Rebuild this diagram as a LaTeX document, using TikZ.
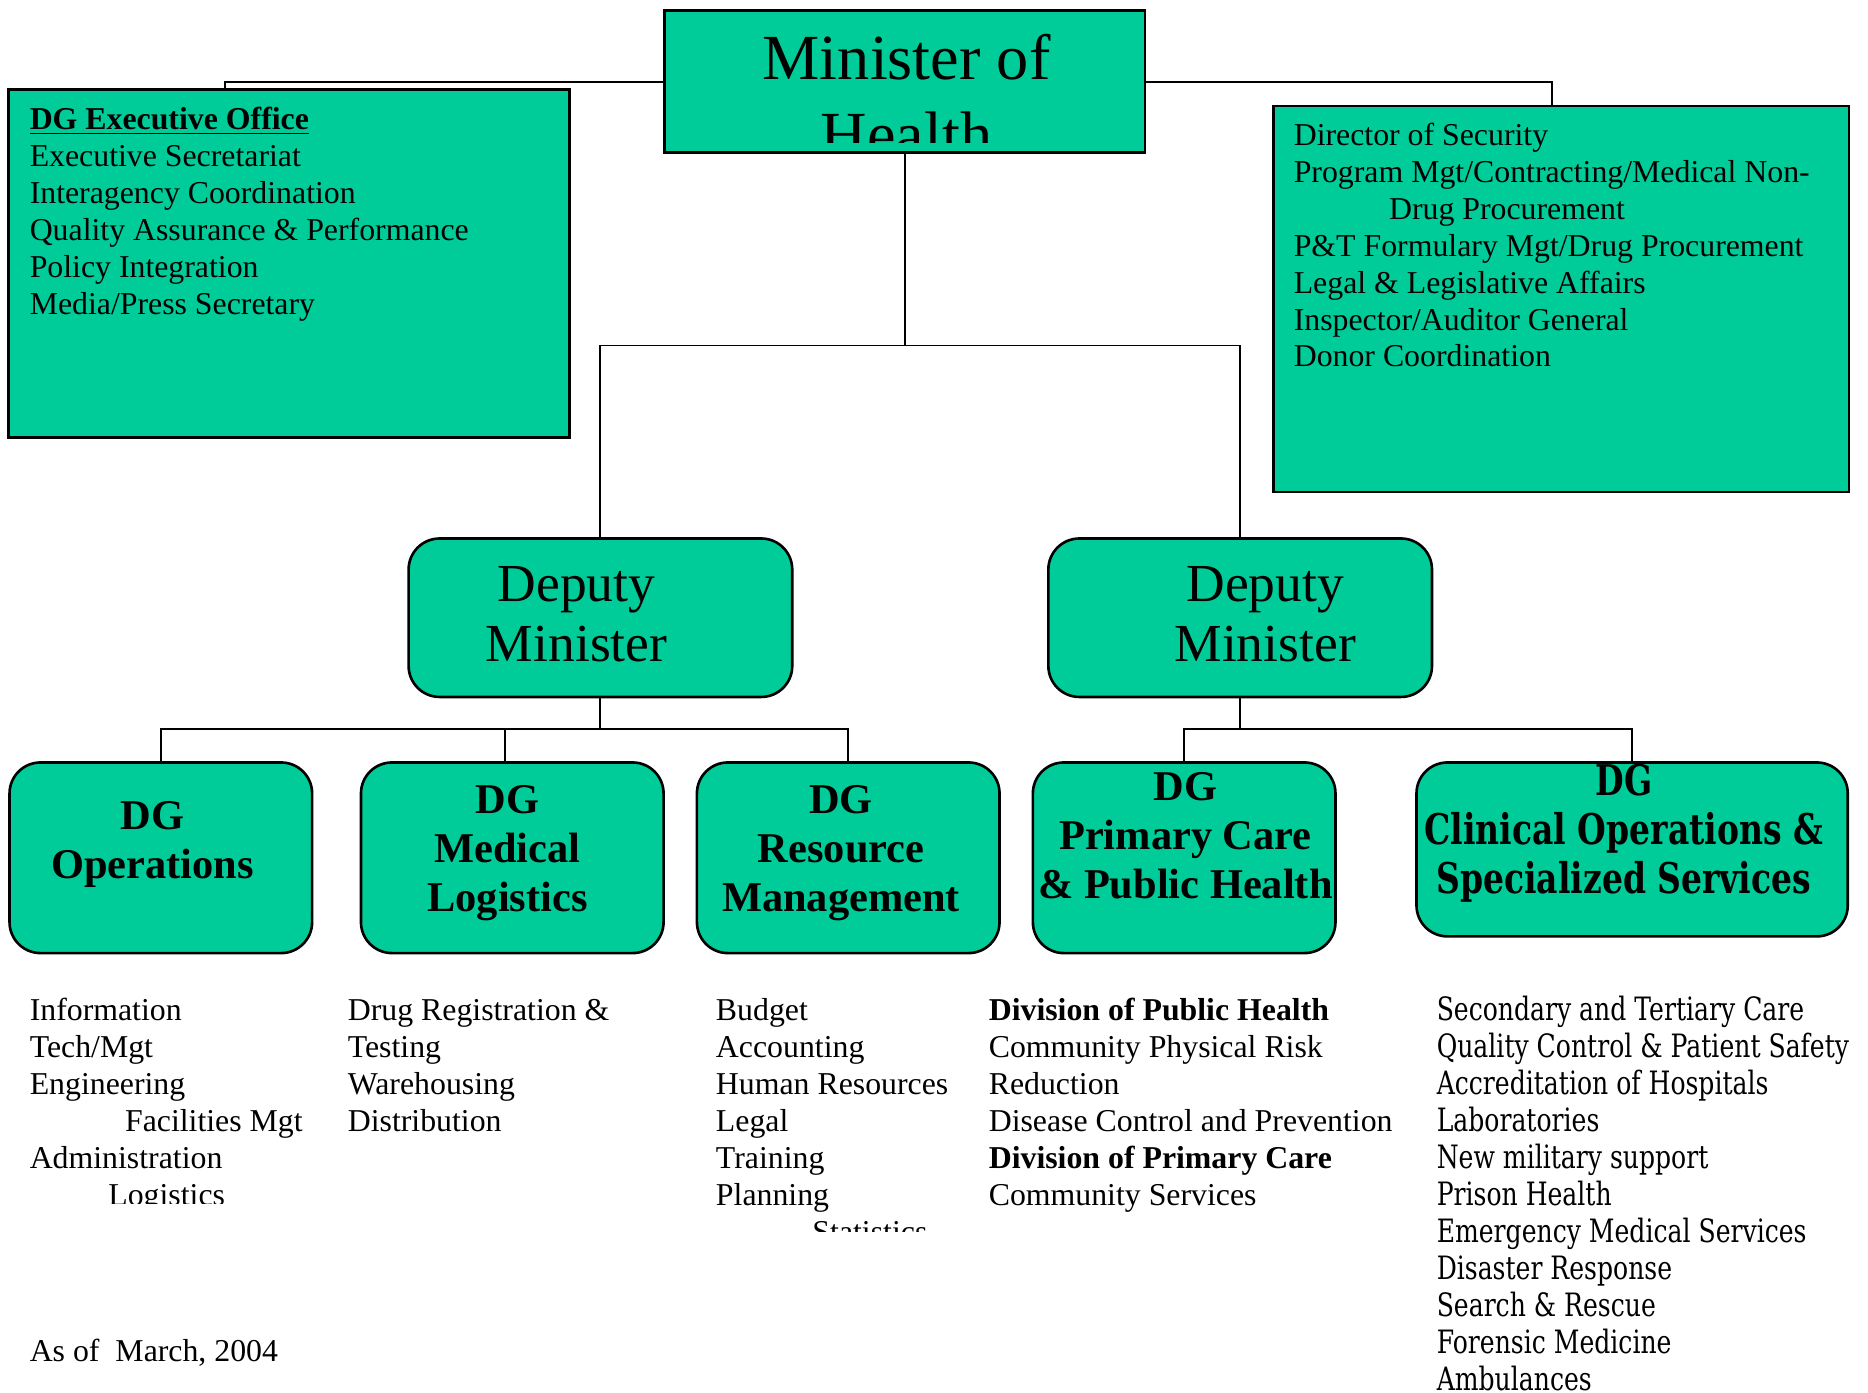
\documentclass[tikz,border=0pt]{standalone}
\usepackage{fontspec}
\setmainfont{Liberation Serif}
\newfontfamily\wideserif[FakeStretch=0.78]{DejaVu Serif}
\newfontfamily\clinfont[FakeStretch=0.78]{DejaVu Serif}
\usepackage{tikz}
\definecolor{mohgreen}{RGB}{0,204,153}

\begin{document}
\begin{tikzpicture}[
  x=0.5pt, y=-0.5pt,
  every node/.style={inner sep=0pt, outer sep=0pt},
  post/.style={draw, line width=1.1pt, fill=mohgreen},
  roundpost/.style={post, rounded corners=13pt},
  dgbox/.style={roundpost, minimum width=127pt, minimum height=80pt},
  depbox/.style={roundpost, minimum width=161pt, minimum height=66.5pt},
  conn/.style={line width=0.8pt},
  listtxt/.style={anchor=north west, align=left, font=\fontsize{13.35}{15.5}\selectfont},
  dglbl/.style={anchor=north, align=center, font=\bfseries\fontsize{17.8}{20.5}\selectfont},
  deplbl/.style={anchor=north, align=center, font=\fontsize{22.45}{25}\selectfont}
]
\useasboundingbox (0,0) rectangle (1568,1169);

%% Minister of Health
\node[post, minimum width=201.5pt, minimum height=59.5pt] (minister) at (759.5,68.5) {};
\begin{scope}
  \clip (minister.north west) rectangle ([yshift=4pt]minister.south east);
  \node[anchor=north, align=center, font=\fontsize{27}{32}\selectfont] (ministertxt) at (761,22.2) {\strut Minister of\\Health};
\end{scope}

%% Offices beside the minister
\node[post, minimum width=235.5pt, minimum height=146pt] (dgexec) at (242.5,221) {};
\node[listtxt] (dgexectxt) at (25,87.3) {\strut\underline{\textbf{DG Executive Office}}\\Executive Secretariat\\Interagency Coordination\\Quality Assurance \& Performance\\Policy Integration\\Media/Press Secretary};

\node[post, minimum width=241.5pt, minimum height=162pt] (security) at (1310.5,251) {};
\node[listtxt] (securitytxt) at (1086,100.3) {\strut Director of Security\\Program Mgt/Contracting/Medical Non-\\\hspace*{40pt}Drug Procurement\\P\&T Formulary Mgt/Drug Procurement\\Legal \& Legislative Affairs\\Inspector/Auditor General\\Donor Coordination};

\draw[conn] (minister.west) -| ([xshift=-26.75pt]dgexec.north);
\draw[conn] (minister.east) -| ([xshift=-3.75pt]security.north);

%% Deputy ministers
\node[depbox] (dep1) at (504,518.5) {};
\node[depbox] (dep2) at (1041,518.5) {};
\node[deplbl] (dep1txt) at (484,470) {\strut Deputy\\Minister};
\node[deplbl] (dep2txt) at (1062,470) {\strut Deputy\\Minister};
\coordinate (topbus) at (759.5,290);
\draw[conn] (minister.south) -- (topbus);
\draw[conn] (dep1.north) |- (topbus) -| (dep2.north);

%% Directors general
\node[dgbox] (ops) at (135,720) {};
\node[dgbox] (medlog) at (430,720) {};
\node[dgbox] (resmgmt) at (712,720) {};
\node[dgbox] (primary) at (994,720) {};
\node[roundpost, minimum width=181pt, minimum height=73pt] (clinical) at (1370,713) {};

\node[dglbl] (opstxt) at (128,667.3) {\strut DG\\Operations};
\node[dglbl] (medlogtxt) at (426,654.3) {\strut DG\\Medical\\Logistics};
\node[dglbl] (resmgmttxt) at (706,654.3) {\strut DG\\Resource\\Management};
\node[dglbl] (primarytxt) at (995,643.3) {\strut DG\\Primary Care\\\& Public Health};
\node[dglbl, font=\clinfont\bfseries\fontsize{17.75}{20.5}\selectfont] (clinicaltxt) at (1363,639.3) {\strut DG\\Clinical Operations \&\\Specialized Services};

\coordinate (bus1) at (504,612);
\draw[conn] (dep1.south) -- (bus1);
\draw[conn] (ops.north) |- (bus1) -| (resmgmt.north);
\draw[conn] ([xshift=-3pt]medlog.north) -- ++(0,-28);
\coordinate (bus2) at (1041,612);
\draw[conn] (dep2.south) -- (bus2);
\draw[conn] (primary.north) |- (bus2) -| (clinical.north);

%% Lists under the boxes
\begin{scope}
  \clip (0,800) rectangle (290,1010);
  \node[listtxt] (opslist) at (25,835.3) {\strut Information\\Tech/Mgt\\Engineering\\\hspace*{40pt}Facilities Mgt\\Administration\\\hspace*{33pt}Logistics};
\end{scope}
\node[listtxt] (medloglist) at (292,835.3) {\strut Drug Registration \&\\Testing\\Warehousing\\Distribution};
\begin{scope}
  \clip (590,800) rectangle (820,1034);
  \node[listtxt] (reslist) at (601,835.3) {\strut Budget\\Accounting\\Human Resources\\Legal\\Training\\Planning\\\hspace*{40.5pt}Statistics};
\end{scope}
\node[listtxt] (primarylist) at (830,835.3) {\strut\textbf{Division of Public Health}\\Community Physical Risk\\Reduction\\Disease Control and Prevention\\\textbf{Division of Primary Care}\\Community Services};
\node[listtxt, font=\wideserif\fontsize{13.5}{15.5}\selectfont] (clinicallist) at (1206,835.3) {\strut Secondary and Tertiary Care\\Quality Control \& Patient Safety\\Accreditation of Hospitals\\Laboratories\\New military support\\Prison Health\\Emergency Medical Services\\Disaster Response\\Search \& Rescue\\Forensic Medicine\\Ambulances};
\node[listtxt] (asof) at (25,1121.3) {\strut As of\ \ March, 2004};

\end{tikzpicture}
\end{document}
